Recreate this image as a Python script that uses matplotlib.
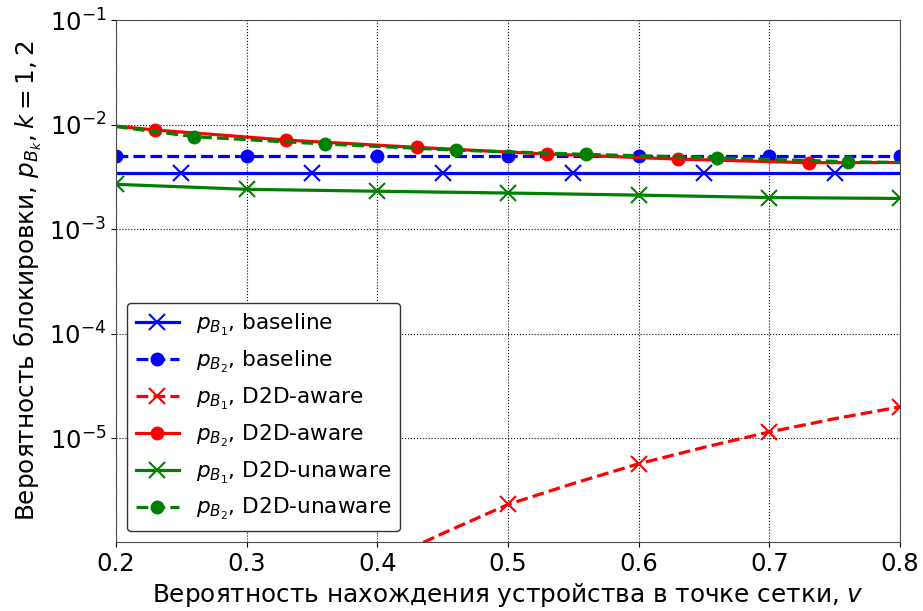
import numpy as np
import matplotlib
matplotlib.use('Agg')
import matplotlib.pyplot as plt
from matplotlib.ticker import NullLocator

# baseline
x_base1 = [0.20, 0.25, 0.35, 0.45, 0.55, 0.65, 0.75, 0.80]
pB1_base = [3.45e-3, 3.45e-3, 3.45e-3, 3.45e-3, 3.45e-3, 3.45e-3, 3.45e-3, 3.45e-3]
x_base2 = [0.2, 0.3, 0.4, 0.5, 0.6, 0.7, 0.8]
pB2_base = [5.05e-3, 5.05e-3, 5.05e-3, 5.05e-3, 5.05e-3, 5.05e-3, 5.05e-3]

# D2D-aware
x_aw1 = [0.40, 0.45, 0.50, 0.55, 0.60, 0.65, 0.70, 0.75, 0.80]
pB1_aw = [6.3e-7, 1.23e-6, 2.33e-6, 3.7e-6, 5.71e-6, 8.2e-6, 1.15e-5, 1.54e-5, 2.0e-5]
x_aw2 = [0.20, 0.23, 0.33, 0.43, 0.53, 0.63, 0.73, 0.80]
pB2_aw = [9.7e-3, 8.9e-3, 7.13e-3, 6.07e-3, 5.24e-3, 4.69e-3, 4.33e-3, 4.35e-3]

# D2D-unaware
x_un1 = [0.2, 0.3, 0.4, 0.5, 0.6, 0.7, 0.8]
pB1_un = [2.69e-3, 2.41e-3, 2.31e-3, 2.22e-3, 2.12e-3, 2.01e-3, 1.97e-3]
x_un2 = [0.20, 0.26, 0.36, 0.46, 0.56, 0.66, 0.76, 0.80]
pB2_un = [9.6e-3, 7.67e-3, 6.54e-3, 5.71e-3, 5.2e-3, 4.83e-3, 4.42e-3, 4.35e-3]

xticks = [0.2, 0.3, 0.4, 0.5, 0.6, 0.7, 0.8]

fig = plt.figure(figsize=(9.23, 6.11), dpi=100)
ax = fig.add_axes([0.1257, 0.113, 0.8494, 0.854])

lw = 2.3
ax.plot(x_base1, pB1_base, 'b-', lw=lw, marker='x', ms=11.5, mew=1.5,
        markevery=[1, 2, 3, 4, 5, 6], label=r'$p_{B_1}$, baseline')
ax.plot(x_base2, pB2_base, 'b--', lw=lw, marker='o', ms=9,
        label=r'$p_{B_2}$, baseline')
ax.plot(x_aw1, pB1_aw, 'r--', lw=lw, marker='x', ms=11.5, mew=1.5,
        markevery=[0, 2, 4, 6, 8], label=r'$p_{B_1}$, D2D-aware')
ax.plot(x_aw2, pB2_aw, 'r-', lw=lw, marker='o', ms=9,
        markevery=[1, 2, 3, 4, 5, 6], label=r'$p_{B_2}$, D2D-aware')
ax.plot(x_un1, pB1_un, 'g-', lw=lw, marker='x', ms=11.5, mew=1.5,
        label=r'$p_{B_1}$, D2D-unaware')
ax.plot(x_un2, pB2_un, 'g--', lw=lw, marker='o', ms=9,
        markevery=[1, 2, 3, 4, 5, 6], label=r'$p_{B_2}$, D2D-unaware')

ax.set_yscale('log')
ax.set_xlim(0.2, 0.8)
ax.set_ylim(1.02e-6, 1e-1)
ax.set_xticks(xticks)
ax.yaxis.set_minor_locator(NullLocator())
ax.grid(True, which='major', color='k', linestyle=':', linewidth=0.8)
ax.tick_params(labelsize=17.5)
for s in ax.spines.values():
    s.set_color('0.3')

ax.set_xlabel(u'Вероятность нахождения устройства в точке сетки, $v$', fontsize=17.8)
ax.set_ylabel(u'Вероятность блокировки, $p_{B_k}, k=1,2$', fontsize=17.8)

leg = ax.legend(loc='lower left', fontsize=15.6, fancybox=True, framealpha=1)
leg.get_frame().set_edgecolor('0.2')

plt.savefig('out.png', dpi=100)
